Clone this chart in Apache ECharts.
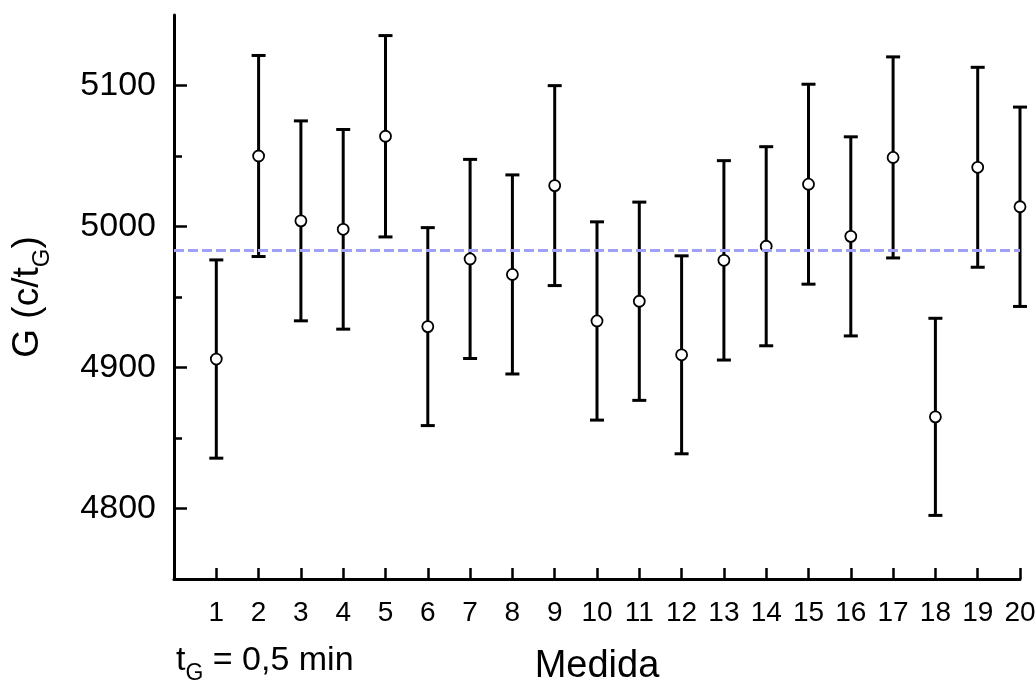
<!DOCTYPE html>
<html>
<head>
<meta charset="utf-8">
<script src="https://cdn.jsdelivr.net/npm/echarts@6/dist/echarts.min.js"></script>
<style>
  html, body { margin: 0; padding: 0; background: #fff; }
  #chart { width: 1035px; height: 682px; }
</style>
</head>
<body>
<div id="chart"></div>
<script>
// Measurement index (Medida) and count rate G in c/t_G, with its uncertainty
const medida = [1, 2, 3, 4, 5, 6, 7, 8, 9, 10, 11, 12, 13, 14, 15, 16, 17, 18, 19, 20];
const gValues = [4906, 5050, 5004, 4998, 5064, 4929, 4977, 4966, 5029, 4933,
                 4947, 4909, 4976, 4986, 5030, 4993, 5049, 4865, 5042, 5014];
const gErrors = [70.3, 71.3, 70.9, 70.8, 71.4, 70.2, 70.6, 70.6, 70.9, 70.3,
                 70.3, 70.2, 70.7, 70.6, 70.9, 70.6, 71.3, 69.9, 70.9, 70.7];
const gMean = 4983.4;

// Axis ticks
const yMajorTicks = [4800, 4900, 5000, 5100];
const yMinorTicks = [4850, 4950, 5050];
const yRange = [4750, 5150];
const xRange = [0, 20];

const FONT = '"Liberation Sans", Arial, sans-serif';

const points = medida.map((m, i) => [m, gValues[i], gErrors[i]]);

const chart = echarts.init(document.getElementById('chart'), null, { renderer: 'canvas' });

chart.setOption({
  animation: false,
  backgroundColor: '#ffffff',
  textStyle: { fontFamily: FONT, color: '#000' },
  grid: { left: 174, right: 15, top: 15, bottom: 103, containLabel: false, outerBoundsMode: 'none' },
  xAxis: {
    type: 'value',
    min: xRange[0],
    max: xRange[1],
    name: 'Medida',
    nameLocation: 'middle',
    nameGap: 69,
    nameTextStyle: { fontFamily: FONT, fontSize: 38, color: '#000' },
    axisLine: { show: true, onZero: false, lineStyle: { color: '#000', width: 3 } },
    axisTick: { show: true, inside: true, length: 11, customValues: medida,
                lineStyle: { color: '#000', width: 2.5 } },
    axisLabel: { show: true, customValues: medida, fontFamily: FONT, fontSize: 28,
                 color: '#000', margin: 20, formatter: v => String(v) },
    splitLine: { show: false }
  },
  yAxis: [
    {
      type: 'value',
      position: 'left',
      min: yRange[0],
      max: yRange[1],
      name: '{m|G (c/t}{sub|G}{m|)}',
      nameLocation: 'middle',
      nameGap: 120,
      nameRotate: 90,
      nameTextStyle: {
        fontFamily: FONT, fontSize: 37, color: '#000',
        rich: {
          m: { fontFamily: FONT, fontSize: 37, color: '#000', lineHeight: 45, verticalAlign: 'top' },
          sub: { fontFamily: FONT, fontSize: 24, color: '#000', lineHeight: 24, verticalAlign: 'bottom' }
        }
      },
      axisLine: { show: true, onZero: false, lineStyle: { color: '#000', width: 3 } },
      axisTick: { show: true, inside: true, length: 13, customValues: yMajorTicks,
                  lineStyle: { color: '#000', width: 2.5 } },
      axisLabel: { show: true, customValues: yMajorTicks, fontFamily: FONT, fontSize: 34,
                   color: '#000', margin: 18, formatter: v => String(v) },
      splitLine: { show: false }
    },
    {
      type: 'value',
      position: 'left',
      min: yRange[0],
      max: yRange[1],
      axisLine: { show: false },
      axisTick: { show: true, inside: true, length: 8, customValues: yMinorTicks,
                  lineStyle: { color: '#000', width: 2.5 } },
      axisLabel: { show: false },
      splitLine: { show: false }
    }
  ],
  graphic: [
    {
      type: 'text',
      left: 176,
      top: 644,
      style: {
        text: '{a|t}{s|G}{a| = 0,5 min}',
        fill: '#000',
        rich: {
          a: { fontFamily: FONT, fontSize: 34, color: '#000', lineHeight: 41, verticalAlign: 'top' },
          s: { fontFamily: FONT, fontSize: 23, color: '#000', lineHeight: 23, verticalAlign: 'bottom' }
        }
      }
    }
  ],
  series: [
    {
      // mean reference line
      type: 'line',
      data: [],
      z: 1,
      markLine: {
        silent: true,
        symbol: ['none', 'none'],
        label: { show: false },
        lineStyle: { color: '#a0a0f7', width: 3, type: [10, 4] },
        data: [{ yAxis: gMean }]
      }
    },
    {
      // error bars
      type: 'custom',
      z: 2,
      data: points,
      encode: { x: 0, y: 1 },
      renderItem: function (params, api) {
        const x = api.value(0);
        const y = api.value(1);
        const e = api.value(2);
        const top = api.coord([x, y + e]);
        const bot = api.coord([x, y - e]);
        const hw = 7;
        const style = { stroke: '#000', lineWidth: 3 };
        return {
          type: 'group',
          children: [
            { type: 'line', shape: { x1: top[0], y1: top[1], x2: bot[0], y2: bot[1] }, style: style },
            { type: 'line', shape: { x1: top[0] - hw, y1: top[1], x2: top[0] + hw, y2: top[1] }, style: style },
            { type: 'line', shape: { x1: bot[0] - hw, y1: bot[1], x2: bot[0] + hw, y2: bot[1] }, style: style }
          ]
        };
      }
    },
    {
      // measured values
      type: 'scatter',
      z: 3,
      data: points.map(p => [p[0], p[1]]),
      symbol: 'circle',
      symbolSize: 11,
      itemStyle: { color: '#fff', borderColor: '#000', borderWidth: 1.8, opacity: 1 }
    }
  ]
});
</script>
</body>
</html>
